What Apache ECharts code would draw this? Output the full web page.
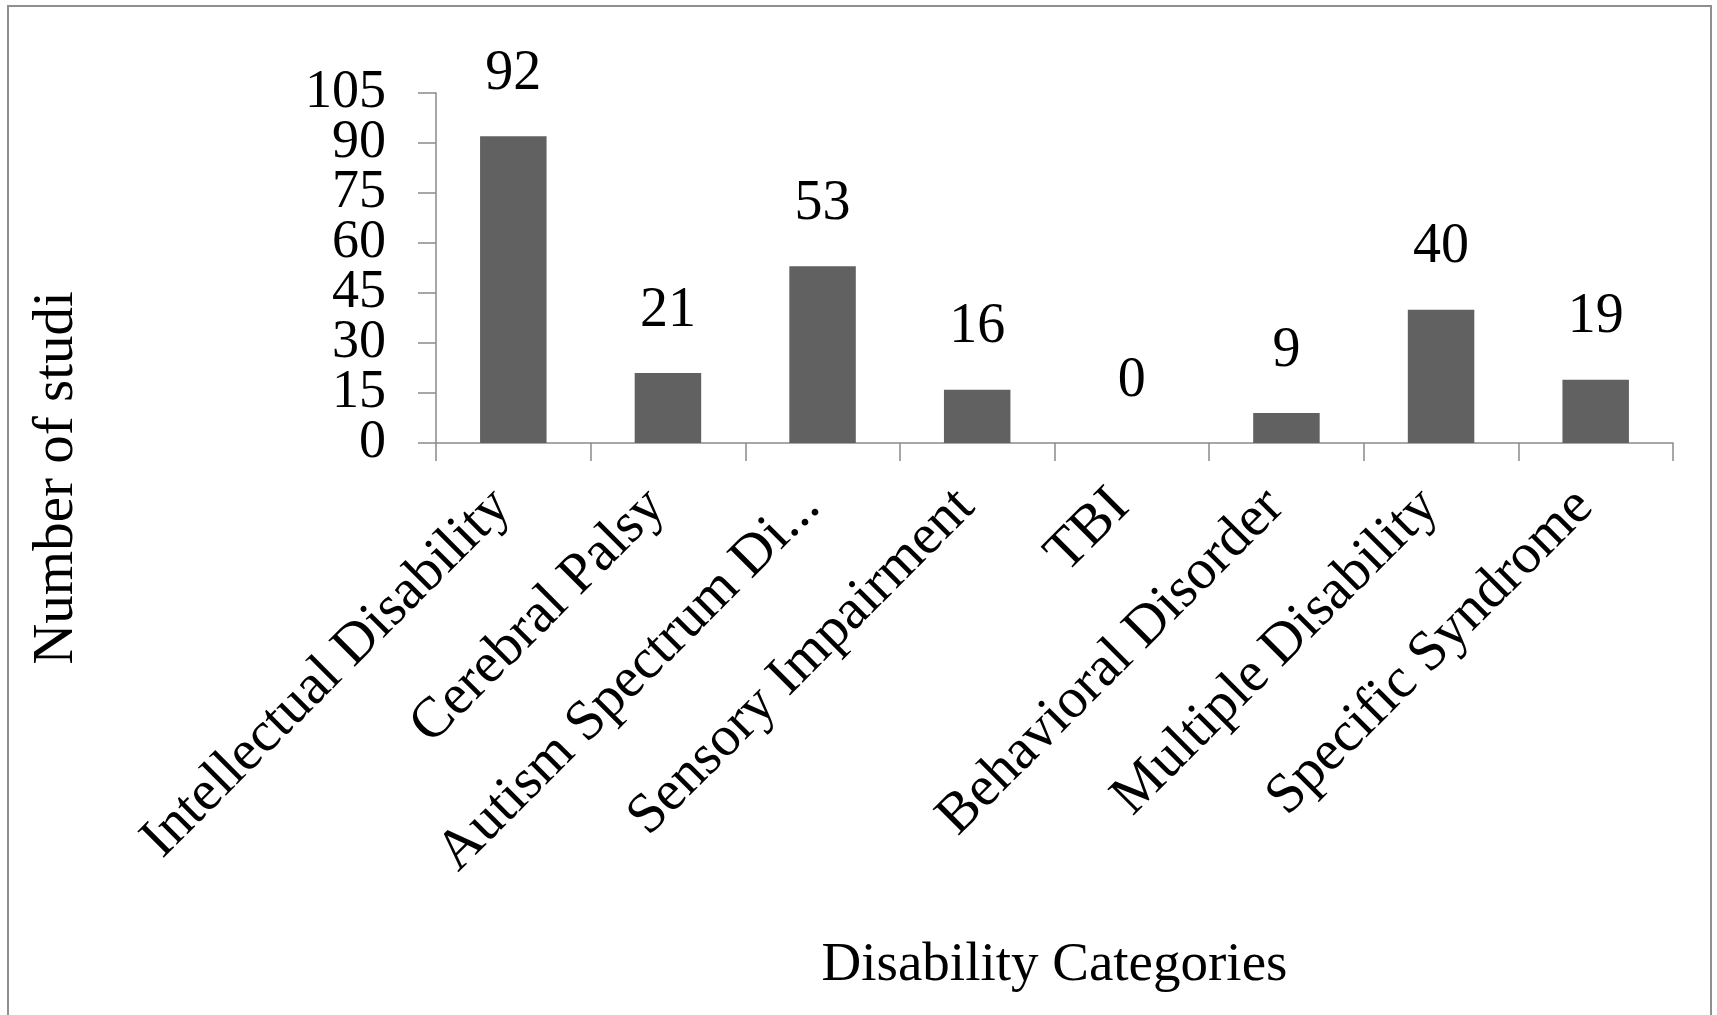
<!DOCTYPE html>
<html>
<head>
<meta charset="utf-8">
<script src="https://cdn.jsdelivr.net/npm/echarts@6/dist/echarts.min.js"></script>
<style>
  html, body { margin: 0; padding: 0; background: #ffffff; }
  #chart { position: absolute; left: 0; top: 0; width: 1717px; height: 1015px; }
  #frame { position: absolute; left: 7px; top: 5px; width: 1705px; height: 1020px;
           border: 2px solid #8f8f8f; box-sizing: border-box; pointer-events: none; }
</style>
</head>
<body>
<div id="chart"></div>
<div id="frame"></div>
<script>
const categories = [
  'Intellectual Disability',
  'Cerebral Palsy',
  'Autism Spectrum Di...',
  'Sensory Impairment',
  'TBI',
  'Behavioral Disorder',
  'Multiple Disability',
  'Specific Syndrome'
];
const studyCounts = [92, 21, 53, 16, 0, 9, 40, 19];
const yTicks = [0, 15, 30, 45, 60, 75, 90, 105];
const xTitle = 'Disability Categories';
const yTitle = 'Number of studies';

const FONT = '"Liberation Serif", "Times New Roman", "DejaVu Serif", serif';
const AXIS_GRAY = '#8a8a8a';

const chart = echarts.init(document.getElementById('chart'), null, { renderer: 'canvas' });
chart.setOption({
  animation: false,
  backgroundColor: '#ffffff',
  grid: { left: 436, right: 44, top: 93, bottom: 572, containLabel: false },
  xAxis: {
    type: 'category',
    data: categories,
    boundaryGap: true,
    name: xTitle,
    nameLocation: 'middle',
    nameGap: 495,
    nameTextStyle: { fontFamily: FONT, fontSize: 55, color: '#000000' },
    axisLine: { show: true, onZero: false, lineStyle: { color: AXIS_GRAY, width: 1.5 } },
    axisTick: { show: true, inside: false, length: 18, alignWithLabel: false, interval: 0,
                lineStyle: { color: AXIS_GRAY, width: 1.5 } },
    axisLabel: {
      interval: 0, rotate: 45, margin: 44,
      fontFamily: FONT, fontSize: 57, color: '#000000',
      padding: [0, 16, 0, 0]
    },
    splitLine: { show: false }
  },
  yAxis: [{
    type: 'value',
    min: yTicks[0],
    max: yTicks[yTicks.length - 1],
    interval: yTicks[1] - yTicks[0],
    name: yTitle,
    nameLocation: 'middle',
    nameRotate: 90,
    nameGap: 350,
    nameTruncate: { maxWidth: 380, ellipsis: '' },
    nameTextStyle: { fontFamily: FONT, fontSize: 57, color: '#000000', padding: [0, 420, 0, 0] },
    axisLine: { show: true, lineStyle: { color: AXIS_GRAY, width: 1.5 } },
    axisTick: { show: false },
    axisLabel: { show: false },
    splitLine: { show: false }
  }, {
    // tick marks and tick labels of the value scale (all shown, as in the reference)
    type: 'category',
    data: yTicks.map(String),
    boundaryGap: false,
    position: 'left',
    axisLine: { show: false },
    axisTick: { show: true, inside: false, length: 18, interval: 0,
                lineStyle: { color: AXIS_GRAY, width: 1.5 } },
    axisLabel: { show: true, interval: 0, margin: 50, fontFamily: FONT, fontSize: 54, color: '#000000' },
    splitLine: { show: false }
  }],
  series: [{
    type: 'bar',
    yAxisIndex: 0,
    data: studyCounts,
    barCategoryGap: '57%',
    itemStyle: { color: '#616161' },
    label: {
      show: true, position: 'top', distance: 34,
      fontFamily: FONT, fontSize: 56, color: '#000000'
    }
  }]
});
</script>
</body>
</html>
